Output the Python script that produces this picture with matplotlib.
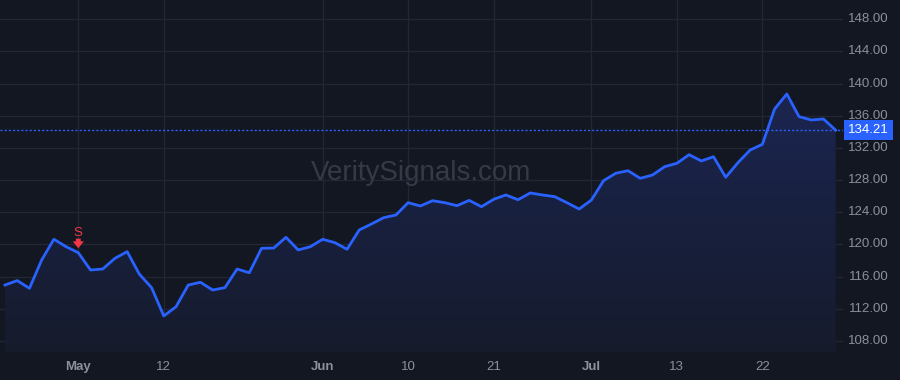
import numpy as np
import matplotlib.pyplot as plt
from matplotlib.colors import LinearSegmentedColormap

# closing prices, one per session
prices = [114.95, 115.50, 114.54, 118.06, 120.64, 119.72, 118.97, 116.82, 116.94, 118.27,
          119.10, 116.30, 114.62, 111.10, 112.25, 114.95, 115.29, 114.33, 114.62, 116.94,
          116.48, 119.52, 119.55, 120.89, 119.31, 119.72, 120.64, 120.22, 119.40, 121.80,
          122.54, 123.33, 123.66, 125.19, 124.78, 125.44, 125.19, 124.82, 125.48, 124.69,
          125.61, 126.15, 125.56, 126.40, 126.15, 125.94, 125.19, 124.40, 125.52, 127.93,
          128.85, 129.17, 128.22, 128.63, 129.67, 130.09, 131.16, 130.38, 130.91, 128.35,
          130.17, 131.74, 132.45, 136.84, 138.71, 135.89, 135.48, 135.60, 134.21]
tick_idx = [6, 13, 26, 33, 40, 48, 55, 62]
tick_labels = ["May", "12", "Jun", "10", "21", "Jul", "13", "22"]
month_labels = ["May", "Jun", "Jul"]
yticks = [108, 112, 116, 120, 124, 128, 132, 136, 140, 144, 148]
signal_idx = 6
signal_text = "S"
last_price = prices[-1]

bg = "#131722"
grid_c = "#232734"
line_c = "#2962ff"
text_c = "#8d909a"
red = "#f23645"

plt.rcParams['font.family'] = ['Liberation Sans', 'DejaVu Sans']

fig = plt.figure(figsize=(9, 3.8), dpi=100, facecolor=bg)
ax = fig.add_axes([0, 1 - 352 / 380, 843 / 900, 352 / 380])
ax.set_facecolor(bg)

x = np.arange(len(prices))
ymin, ymax = 106.62, 150.4

# grid
for t in yticks:
    ax.axhline(t, color=grid_c, lw=0.9, zorder=0)
for t in tick_idx:
    ax.axvline(t, color=grid_c, lw=0.9, zorder=0)

# gradient fill under the line
cmap = LinearSegmentedColormap.from_list("f", ["#161b2c", "#1b2550"])
grad = np.linspace(0, 1, 256).reshape(-1, 1)
im = ax.imshow(grad, extent=[x[0], x[-1], ymin, max(prices)], origin="lower",
               aspect="auto", cmap=cmap, zorder=1)
poly = ax.fill_between(x, prices, ymin, color="none")
clip = poly.get_paths()[0]
im.set_clip_path(clip, transform=ax.transData)
ax.set_xlim(-0.41, 68.6)
ax.set_ylim(ymin, ymax)

ax.plot(x, prices, color=line_c, lw=2, zorder=3, solid_joinstyle="round")

# last price line
ax.axhline(last_price, color=line_c, lw=1, ls=(0, (1.5, 1.5)), zorder=2)

# sell signal
ax.annotate("", xy=(signal_idx, prices[signal_idx] + 0.55),
            xytext=(signal_idx, prices[signal_idx] + 1.75),
            arrowprops=dict(arrowstyle="simple,head_width=0.8,head_length=0.5,tail_width=0.35",
                            color=red, lw=0, shrinkA=0, shrinkB=0), zorder=4)
ax.text(signal_idx, prices[signal_idx] + 2.5, signal_text, color=red, fontsize=9.5,
        ha="center", va="center", zorder=4)

# watermark
ax.text(421 / 900, 1 - 173 / 380, "VeritySignals.com", transform=fig.transFigure,
        color="#363a46", fontsize=20, ha="center", va="center", zorder=0.5)

ax.set_xticks([])
ax.set_yticks([])
for s in ax.spines.values():
    s.set_visible(False)

# x labels
for i, lab in zip(tick_idx, tick_labels):
    ax.text(i, -15 / 352, lab, transform=ax.get_xaxis_transform(), color=text_c,
            fontsize=9.5, ha="center", va="center",
            fontweight="bold" if lab in month_labels else "normal")

# right price scale
for t in yticks:
    ax.text(889 / 843, t, f"{t:.2f}", transform=ax.get_yaxis_transform(), color=text_c,
            fontsize=9.5, ha="right", va="center", clip_on=False)
ax.text(868.5 / 843, last_price, f"{last_price:.2f}", transform=ax.get_yaxis_transform(),
        color="white", fontsize=9.5, ha="center", va="center", clip_on=False, zorder=5,
        bbox=dict(boxstyle="square,pad=0.3", fc=line_c, ec="none"))

fig.savefig("out.png", dpi=100, facecolor=bg)
